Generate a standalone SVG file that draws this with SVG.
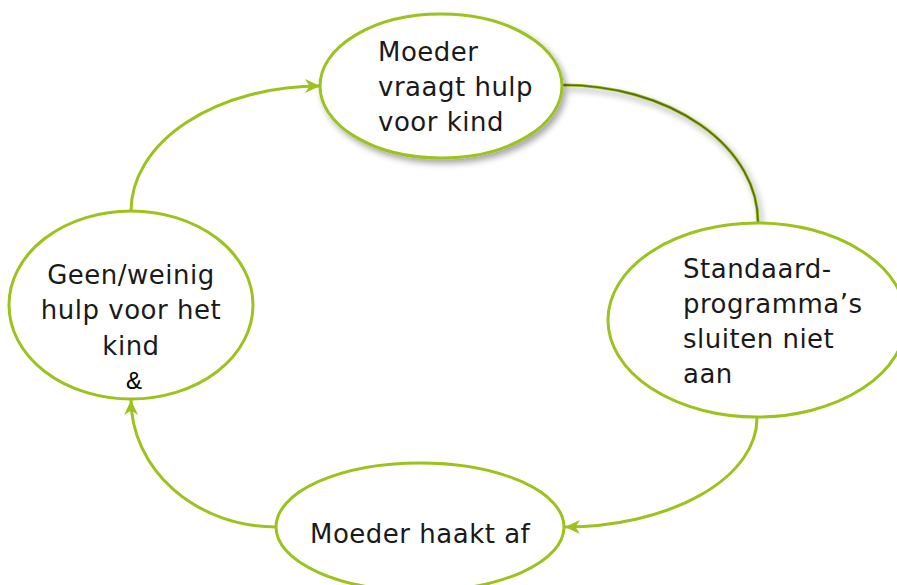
<svg xmlns="http://www.w3.org/2000/svg" width="897" height="585" viewBox="0 0 897 585">
<style>
.node{fill:#ffffff;stroke:#9CC21C;stroke-width:3}
.lbl{font-family:"DejaVu Sans","Liberation Sans",sans-serif;font-size:26px;letter-spacing:0.5px;fill:#1a1a1a}
.conn{fill:none;stroke:#9CC21C;stroke-width:3}
</style>
<defs>
<marker id="arr" markerUnits="userSpaceOnUse" markerWidth="17" markerHeight="15" refX="15" refY="7.5" orient="auto">
<path d="M0,0.5 L15,7.5 L0,14.5 L4.5,7.5 Z" fill="#9CC21C"/>
</marker>
<filter id="sh" x="-20%" y="-20%" width="150%" height="150%">
<feDropShadow dx="3" dy="4" stdDeviation="3" flood-color="#000" flood-opacity="0.35"/>
</filter>
</defs>
<g id="connectors">
<path d="M563,85 A195,137 0 0 1 758,222" fill="none" stroke="#9CC21C" stroke-width="3.2" filter="url(#sh)"/>
<path d="M563,85 A195,137 0 0 1 758,222" fill="none" stroke="#5b6b14" stroke-width="1.6"/>
<path class="conn" d="M757,418 A193,109 0 0 1 565,527" marker-end="url(#arr)"/>
<path class="conn" d="M276,527 A145,128 0 0 1 131,400" marker-end="url(#arr)"/>
<path class="conn" d="M131,211 A189,125 0 0 1 320,86" marker-end="url(#arr)"/>
</g>
<g id="node-top">
<ellipse class="node" cx="441" cy="86" rx="121" ry="72" filter="url(#sh)"/>
<text class="lbl"><tspan x="378" y="61">Moeder</tspan><tspan x="378" y="96">vraagt hulp</tspan><tspan x="378" y="131">voor kind</tspan></text>
</g>
<g id="node-right">
<ellipse class="node" cx="757" cy="320" rx="149" ry="97"/>
<text class="lbl"><tspan x="683" y="278">Standaard-</tspan><tspan x="683" y="313">programma’s</tspan><tspan x="683" y="348">sluiten niet</tspan><tspan x="683" y="383">aan</tspan></text>
</g>
<g id="node-bottom">
<ellipse class="node" cx="420" cy="527" rx="144" ry="64"/>
<text class="lbl" x="310" y="543">Moeder haakt af</text>
</g>
<g id="node-left">
<ellipse class="node" cx="131" cy="305" rx="122" ry="94"/>
<text class="lbl" text-anchor="middle"><tspan x="131" y="284">Geen/weinig</tspan><tspan x="131" y="319">hulp voor het</tspan><tspan x="131" y="355">kind</tspan></text>
<text x="134" y="389" text-anchor="middle" style="font-family:'Liberation Sans',sans-serif;font-size:24px;fill:#000">&amp;</text>
</g>
</svg>
